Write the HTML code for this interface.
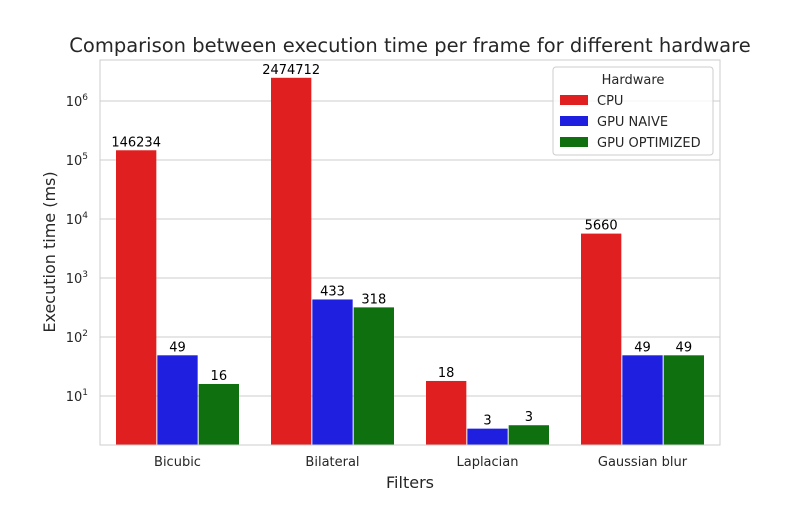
<!DOCTYPE html>
<html><head><meta charset="utf-8"><style>
body{margin:0;background:#fff}
svg text{font-family:"DejaVu Sans","Liberation Sans",sans-serif;fill:#262626}
</style></head><body>
<svg id="chart" width="800" height="500" xmlns="http://www.w3.org/2000/svg">
<rect width="800" height="500" fill="#fff"/>
<text x="410" y="52" font-size="19.5" text-anchor="middle">Comparison between execution time per frame for different hardware</text>
<g id="grid"></g>
<g id="bars"></g>
<g id="labels"></g>
<rect x="100" y="60" width="620" height="385" fill="none" stroke="#ccc" stroke-width="1"/>
<g id="ticks"></g>
<text x="410" y="488" font-size="16" text-anchor="middle">Filters</text>
<text transform="translate(55,252) rotate(-90)" font-size="16" text-anchor="middle">Execution time (ms)</text>
<g>
<rect x="553" y="67" width="160" height="88" rx="3" fill="#fff" fill-opacity="0.8" stroke="#ccc"/>
<text x="633" y="84" font-size="13" text-anchor="middle">Hardware</text>
<g id="legend-items"></g>
</g>
</svg>
<script>
const categories=["Bicubic","Bilateral","Laplacian","Gaussian blur"];
const seriesNames=["CPU","GPU NAIVE","GPU OPTIMIZED"];
const cpu=[146234,2474712,18,5660];
const gpuNaive=[49,433,2.8,49];
const gpuOpt=[16,318,3.2,49];
const cpuLabels=["146234","2474712","18","5660"];
const naiveLabels=["49","433","3","49"];
const optLabels=["16","318","3","49"];
const tickExps=[1,2,3,4,5,6];
const colors=["#e02020","#1f1fe0","#0e700e"];
const NS="http://www.w3.org/2000/svg";
const L=100,R=720,T=60,B=445,ymin=0.17,ymax=6.695;
const y=v=>B-(Math.log10(v)-ymin)/(ymax-ymin)*(B-T);
const band=(R-L)/categories.length;
const xc=i=>L+band*(i+0.5);
const bw=band*0.8/3;
function mk(t,a,p){const e=document.createElementNS(NS,t);for(const k in a)e.setAttribute(k,a[k]);p.appendChild(e);return e;}
const grid=document.getElementById('grid'),ticks=document.getElementById('ticks');
tickExps.forEach(e=>{
  const yy=y(Math.pow(10,e));
  const g=mk('line',{x1:L,x2:R,y1:yy,y2:yy,stroke:'#ccc','stroke-width':1},grid);
  
  
  const t=mk('text',{x:88,y:yy+5,'font-size':13,'text-anchor':'end'},ticks);
  
  
  t.textContent='10';
  const s=mk('tspan',{dy:-6,'font-size':9},t);s.textContent=e;
});
categories.forEach((c,i)=>{
  const t=mk('text',{x:xc(i),y:466,'font-size':13,'text-anchor':'middle'},ticks);
  
  
  t.textContent=c;
});
const series=[cpu,gpuNaive,gpuOpt],labs=[cpuLabels,naiveLabels,optLabels];
const bars=document.getElementById('bars'),lab=document.getElementById('labels');
series.forEach((s,j)=>s.forEach((v,i)=>{
  const x0=xc(i)-band*0.4+j*bw,yt=y(v);
  const r=mk('rect',{x:x0+0.5,y:yt,width:bw-1,height:B-yt,fill:colors[j]},bars);
  
  
  const t=mk('text',{x:x0+bw/2,y:yt-4,'font-size':13,'text-anchor':'middle',style:'fill:#000'},lab);
  
  
  t.textContent=labs[j][i];
}));
const li=document.getElementById('legend-items');
seriesNames.forEach((n,j)=>{
  const yy=100+j*21;
  const g=mk('g',{},li);
  
  
  mk('rect',{x:560,y:yy-5,width:28,height:10,fill:colors[j]},g);
  const t=mk('text',{x:597,y:yy+5,'font-size':13},g);t.textContent=n;
});
</script>
</body></html>
